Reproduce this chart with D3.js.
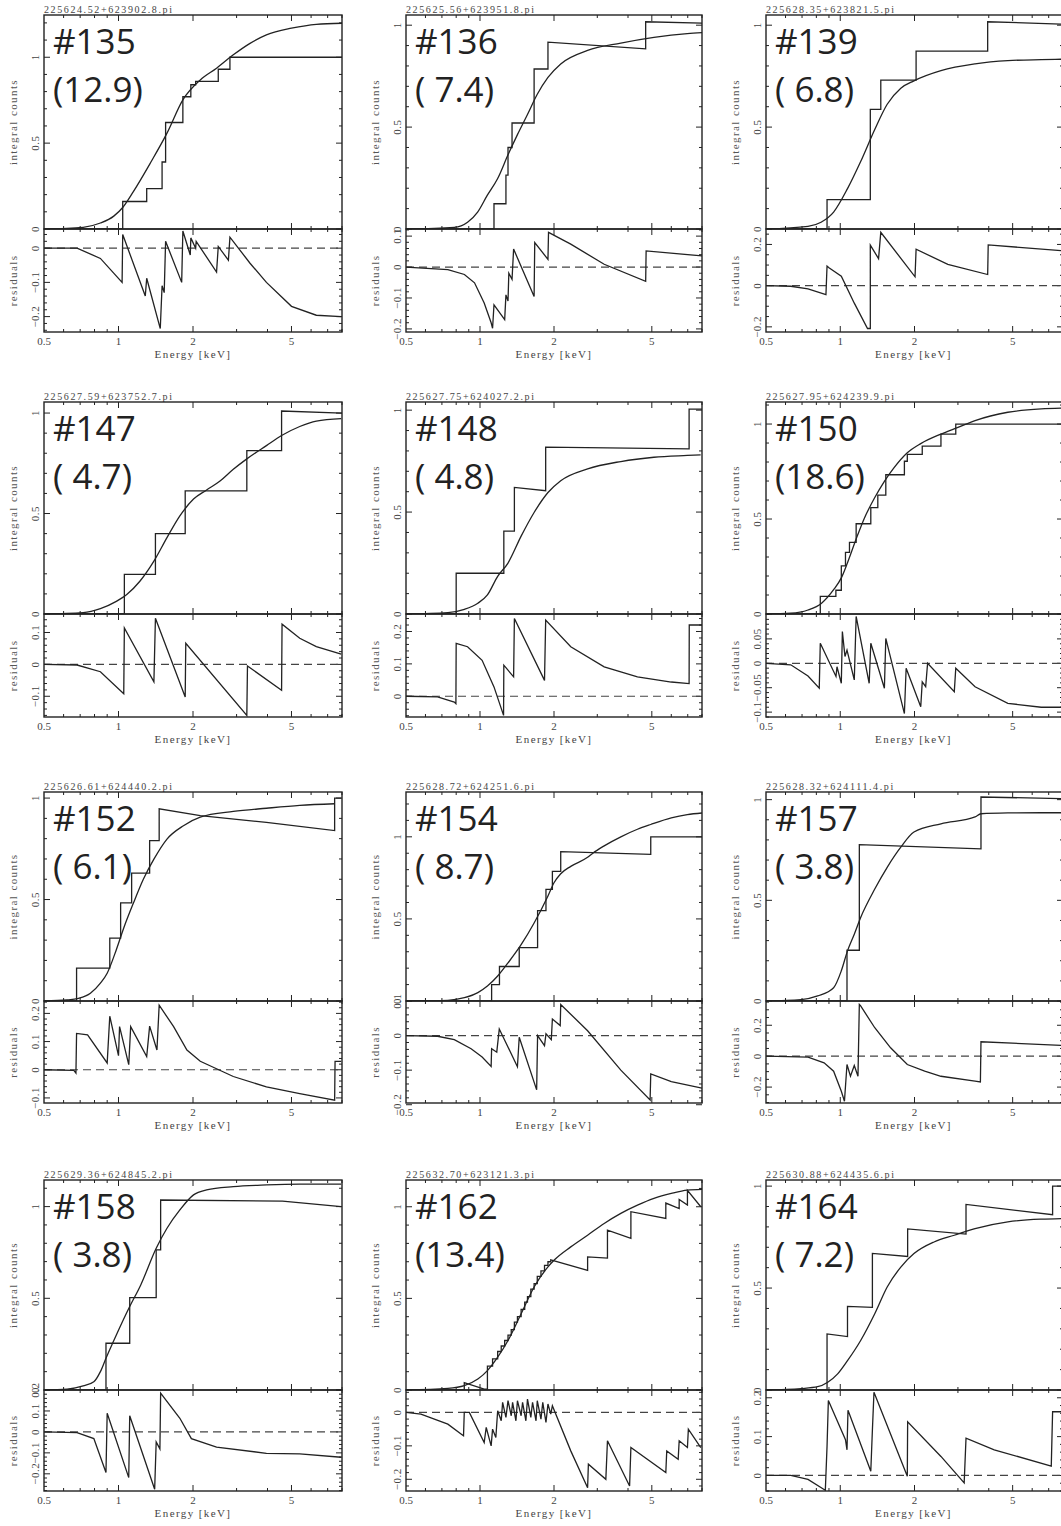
<!DOCTYPE html>
<html>
<head>
<meta charset="utf-8">
<script src="https://cdn.jsdelivr.net/npm/d3@7"></script>
<style>
  body { margin: 0; background: #fff; }
  svg { display: block; }
</style>
</head>
<body>
<svg id="fig" width="1061" height="1526"></svg>
<script>
// integral counts (data staircase), model curve and residuals, one set per source
const data135 = [[0.5,0],[1.04,0],[1.04,0.16],[1.30,0.16],[1.30,0.235],[1.50,0.235],[1.50,0.39],[1.55,0.39],[1.55,0.62],[1.82,0.62],[1.82,0.77],[1.96,0.77],[1.96,0.84],[2.05,0.84],[2.05,0.86],[2.53,0.86],[2.53,0.93],[2.82,0.93],[2.82,1.0],[8,1.0]];
const model135 = [[0.5,0],[0.72,0.01],[0.845,0.035],[0.957,0.075],[1.04,0.125],[1.15,0.219],[1.345,0.384],[1.57,0.558],[1.82,0.752],[2.14,0.868],[2.49,0.936],[2.91,1.014],[3.4,1.081],[3.96,1.13],[5.0,1.169],[6.3,1.192],[8,1.198]];
const resid135 = [[0.5,0],[0.68,0],[0.845,-0.03],[1.034,-0.10],[1.04,0.04],[1.283,-0.14],[1.30,-0.088],[1.475,-0.235],[1.50,-0.11],[1.53,-0.13],[1.55,0.02],[1.80,-0.10],[1.82,0.05],[1.95,-0.02],[1.96,0.03],[2.05,0.0],[2.06,0.02],[2.49,-0.07],[2.53,0.005],[2.78,-0.035],[2.82,0.032],[3.4,-0.044],[3.96,-0.10],[5.0,-0.17],[6.3,-0.196],[7.94,-0.2]];

const data136 = [[0.5,0],[1.14,0],[1.14,0.124],[1.275,0.124],[1.275,0.264],[1.30,0.264],[1.30,0.40],[1.35,0.40],[1.35,0.52],[1.66,0.52],[1.66,0.785],[1.89,0.785],[1.89,0.917],[4.72,0.884],[4.72,1.017],[8,1.01]];
const model136 = [[0.5,0],[0.786,0.008],[0.89,0.033],[0.978,0.083],[1.07,0.165],[1.18,0.248],[1.30,0.364],[1.42,0.463],[1.56,0.562],[1.71,0.661],[1.89,0.744],[2.13,0.81],[2.74,0.876],[3.74,0.912],[5.1,0.94],[6.97,0.959],[8,0.964]];
const resid136 = [[0.5,0],[0.74,-0.008],[0.864,-0.024],[0.95,-0.051],[1.04,-0.116],[1.11,-0.18],[1.125,-0.198],[1.14,-0.122],[1.26,-0.17],[1.275,-0.09],[1.30,-0.11],[1.31,-0.02],[1.35,-0.04],[1.37,0.058],[1.66,-0.095],[1.67,0.079],[1.89,0.025],[1.90,0.112],[2.34,0.074],[3.2,0.009],[4.72,-0.046],[4.74,0.052],[8,0.036]];

const data139 = [[0.5,0],[0.884,0],[0.884,0.144],[1.324,0.144],[1.324,0.587],[1.46,0.587],[1.46,0.73],[2.03,0.73],[2.03,0.873],[3.96,0.873],[3.96,1.017],[8,1.005]];
const model139 = [[0.5,0],[0.74,0.013],[0.836,0.033],[0.94,0.083],[1.07,0.198],[1.21,0.331],[1.38,0.488],[1.55,0.612],[1.76,0.691],[1.99,0.727],[2.56,0.777],[3.52,0.81],[4.78,0.826],[6.53,0.831],[8,0.833]];
const resid139 = [[0.5,0],[0.63,-0.003],[0.74,-0.016],[0.875,-0.044],[0.884,0.095],[0.90,0.087],[1.01,0.046],[1.14,-0.085],[1.29,-0.208],[1.324,-0.208],[1.324,0.197],[1.43,0.131],[1.46,0.259],[2.01,0.043],[2.03,0.177],[2.73,0.103],[3.96,0.054],[3.98,0.198],[8,0.169]];

const data147 = [[0.5,0],[1.056,0],[1.056,0.197],[1.41,0.197],[1.41,0.40],[1.86,0.40],[1.86,0.613],[3.30,0.613],[3.30,0.813],[4.56,0.813],[4.56,1.01],[8,1.0]];
const model147 = [[0.5,0],[0.72,0.007],[0.845,0.027],[0.98,0.063],[1.08,0.097],[1.22,0.163],[1.39,0.263],[1.57,0.38],[1.77,0.488],[2.01,0.572],[2.27,0.617],[2.58,0.663],[2.91,0.72],[3.30,0.772],[3.96,0.838],[4.56,0.888],[5.4,0.933],[6.3,0.96],[7.94,0.972]];
const resid147 = [[0.5,0],[0.68,-0.002],[0.845,-0.023],[1.05,-0.092],[1.056,0.114],[1.39,-0.055],[1.41,0.145],[1.86,-0.102],[1.87,0.066],[3.30,-0.16],[3.32,-0.005],[4.56,-0.081],[4.58,0.126],[5.4,0.082],[6.3,0.056],[7.94,0.032]];

const data148 = [[0.5,0],[0.80,0],[0.80,0.20],[1.25,0.20],[1.25,0.407],[1.38,0.407],[1.38,0.621],[1.85,0.605],[1.85,0.819],[7.09,0.81],[7.09,1.005],[8,1.005]];
const model148 = [[0.5,0],[0.74,0.007],[0.864,0.023],[0.98,0.053],[1.072,0.094],[1.18,0.185],[1.30,0.25],[1.47,0.382],[1.66,0.498],[1.89,0.596],[2.13,0.654],[2.74,0.712],[3.74,0.748],[5.1,0.769],[6.97,0.778],[7.9,0.781]];
const resid148 = [[0.5,0],[0.672,-0.002],[0.786,-0.018],[0.798,-0.023],[0.80,0.163],[0.89,0.153],[1.02,0.111],[1.14,0.029],[1.247,-0.059],[1.25,0.096],[1.37,0.06],[1.38,0.24],[1.83,0.049],[1.85,0.235],[2.34,0.153],[3.2,0.091],[4.37,0.06],[6.0,0.044],[7.09,0.039],[7.10,0.22],[8,0.22]];

const data150 = [[0.5,0],[0.83,0],[0.83,0.093],[0.96,0.093],[0.96,0.125],[1.01,0.125],[1.01,0.253],[1.05,0.253],[1.05,0.324],[1.09,0.324],[1.09,0.377],[1.16,0.377],[1.16,0.475],[1.33,0.475],[1.33,0.56],[1.42,0.56],[1.42,0.626],[1.53,0.626],[1.53,0.733],[1.82,0.733],[1.82,0.804],[1.87,0.804],[1.87,0.84],[2.15,0.84],[2.15,0.884],[2.56,0.884],[2.56,0.947],[2.94,0.947],[2.94,1.0],[8,1.0]];
const model150 = [[0.5,0],[0.63,0.004],[0.74,0.021],[0.84,0.057],[0.94,0.128],[1.01,0.19],[1.07,0.27],[1.16,0.395],[1.25,0.502],[1.375,0.609],[1.51,0.698],[1.65,0.769],[1.87,0.849],[2.12,0.897],[2.56,0.947],[3.0,0.982],[3.52,1.018],[4.78,1.062],[6.53,1.08],[8,1.084]];
const resid150 = [[0.5,0],[0.63,-0.003],[0.74,-0.026],[0.822,-0.051],[0.83,0.041],[0.961,-0.027],[0.97,-0.007],[1.01,-0.041],[1.02,0.065],[1.045,0.014],[1.065,0.027],[1.14,-0.034],[1.16,0.096],[1.31,-0.041],[1.33,0.041],[1.51,-0.051],[1.53,0.051],[1.82,-0.103],[1.85,-0.01],[2.12,-0.089],[2.15,-0.038],[2.22,-0.048],[2.26,0],[2.90,-0.058],[2.94,-0.01],[3.52,-0.048],[4.78,-0.082],[6.53,-0.09],[8,-0.09]];

const data152 = [[0.5,0],[0.677,0],[0.677,0.162],[0.922,0.162],[0.922,0.31],[1.02,0.31],[1.02,0.484],[1.13,0.484],[1.13,0.63],[1.336,0.63],[1.336,0.79],[1.46,0.79],[1.46,0.947],[2.14,0.914],[3.96,0.88],[7.47,0.84],[7.47,1.0],[7.94,1.0]];
const model152 = [[0.5,0],[0.62,0.005],[0.69,0.013],[0.77,0.038],[0.845,0.088],[0.90,0.137],[0.98,0.253],[1.05,0.36],[1.15,0.484],[1.26,0.6],[1.39,0.699],[1.57,0.798],[1.83,0.864],[2.14,0.906],[2.91,0.934],[3.96,0.95],[5.4,0.964],[7.47,0.972]];
const resid152 = [[0.5,0],[0.66,-0.002],[0.673,-0.012],[0.677,0.129],[0.75,0.124],[0.90,0.024],[0.922,0.19],[1.0,0.05],[1.01,0.153],[1.10,0.018],[1.12,0.153],[1.30,0.047],[1.336,0.155],[1.43,0.07],[1.46,0.229],[1.67,0.153],[1.89,0.07],[2.14,0.03],[2.91,-0.024],[3.96,-0.061],[5.4,-0.085],[7.47,-0.108],[7.5,0.03],[7.94,0.03]];

const data154 = [[0.5,0],[1.115,0],[1.115,0.10],[1.20,0.10],[1.20,0.21],[1.444,0.21],[1.444,0.325],[1.715,0.325],[1.715,0.55],[1.855,0.55],[1.855,0.68],[1.97,0.68],[1.97,0.79],[2.13,0.79],[2.13,0.91],[4.95,0.893],[4.95,1.0],[8,1.0]];
const model154 = [[0.5,0],[0.74,0.004],[0.864,0.02],[0.98,0.051],[1.072,0.091],[1.18,0.152],[1.30,0.232],[1.47,0.343],[1.66,0.475],[1.89,0.64],[2.0,0.72],[2.13,0.775],[2.34,0.82],[2.74,0.875],[2.87,0.899],[3.2,0.945],[3.74,1.0],[4.37,1.046],[4.95,1.075],[6.0,1.115],[6.97,1.135],[8,1.145]];
const resid154 = [[0.5,0],[0.672,-0.002],[0.786,-0.012],[0.92,-0.038],[1.02,-0.062],[1.11,-0.089],[1.115,-0.038],[1.17,-0.048],[1.198,0.019],[1.42,-0.09],[1.444,-0.005],[1.70,-0.157],[1.715,0.0],[1.83,-0.029],[1.855,0.005],[1.95,-0.012],[1.97,0.048],[2.12,0.029],[2.13,0.09],[2.74,0.014],[3.74,-0.1],[4.92,-0.186],[4.95,-0.111],[6.0,-0.133],[8,-0.152]];

const data157 = [[0.5,0],[1.065,0],[1.065,0.252],[1.195,0.252],[1.195,0.777],[3.72,0.756],[3.72,1.013],[8,1.005]];
const model157 = [[0.5,0],[0.694,0.007],[0.81,0.025],[0.94,0.066],[1.01,0.15],[1.07,0.249],[1.14,0.332],[1.21,0.415],[1.38,0.556],[1.55,0.664],[1.76,0.764],[1.99,0.839],[2.56,0.88],[3.52,0.914],[3.72,0.93],[4.78,0.934],[6.53,0.935],[8,0.935]];
const resid157 = [[0.5,0],[0.74,-0.006],[0.86,-0.043],[0.94,-0.097],[1.01,-0.227],[1.04,-0.292],[1.065,-0.054],[1.10,-0.13],[1.14,-0.06],[1.18,-0.13],[1.195,0.335],[1.21,0.325],[1.38,0.184],[1.60,0.054],[1.87,-0.054],[2.20,-0.097],[2.56,-0.13],[3.52,-0.162],[3.70,-0.167],[3.72,0.093],[8,0.069]];

const data158 = [[0.5,0],[0.89,0],[0.89,0.255],[1.11,0.255],[1.11,0.504],[1.42,0.504],[1.42,0.764],[1.48,0.764],[1.48,1.036],[4.6,1.03],[7.94,1.0]];
const model158 = [[0.5,0],[0.62,0.005],[0.72,0.022],[0.795,0.045],[0.845,0.1],[0.89,0.173],[0.98,0.3],[1.11,0.455],[1.23,0.573],[1.42,0.773],[1.57,0.882],[1.77,0.982],[2.01,1.064],[2.27,1.091],[2.91,1.109],[3.96,1.118],[5.4,1.122],[7.94,1.122]];
const resid158 = [[0.5,0],[0.68,-0.003],[0.795,-0.032],[0.89,-0.194],[0.90,0.089],[1.10,-0.218],[1.11,0.077],[1.40,-0.274],[1.42,-0.048],[1.47,-0.081],[1.48,0.185],[1.77,0.065],[1.97,-0.032],[2.49,-0.073],[3.96,-0.102],[5.4,-0.105],[7.94,-0.121]];

const data162 = [[0.5,0],[0.863,0],[0.863,0.04],[1.04,0.005],[1.072,0.005],[1.072,0.13],[1.125,0.13],[1.125,0.17],[1.18,0.17],[1.18,0.21],[1.22,0.21],[1.22,0.24],[1.26,0.24],[1.26,0.27],[1.30,0.27],[1.30,0.30],[1.34,0.30],[1.34,0.33],[1.38,0.33],[1.38,0.37],[1.42,0.37],[1.42,0.40],[1.47,0.40],[1.47,0.44],[1.52,0.44],[1.52,0.48],[1.56,0.48],[1.56,0.51],[1.61,0.51],[1.61,0.55],[1.66,0.55],[1.66,0.58],[1.71,0.58],[1.71,0.62],[1.77,0.62],[1.77,0.65],[1.83,0.65],[1.83,0.68],[1.89,0.68],[1.89,0.70],[1.94,0.70],[1.94,0.71],[2.74,0.653],[2.74,0.726],[3.30,0.72],[3.30,0.872],[4.11,0.827],[4.11,0.973],[5.70,0.936],[5.70,1.02],[6.46,0.99],[6.46,1.04],[6.98,1.01],[6.98,1.09],[7.91,1.0]];
const model162 = [[0.5,0],[0.74,0.009],[0.863,0.024],[0.98,0.06],[1.072,0.106],[1.18,0.179],[1.30,0.27],[1.47,0.416],[1.66,0.562],[1.89,0.672],[2.0,0.708],[2.34,0.781],[2.74,0.845],[3.2,0.909],[3.74,0.964],[4.37,1.009],[5.1,1.046],[6.0,1.073],[6.97,1.091],[8,1.095]];
const resid162 = [[0.5,0],[0.575,-0.005],[0.74,-0.035],[0.84,-0.065],[0.857,-0.07],[0.863,0],[0.905,0],[1.04,-0.09],[1.06,-0.045],[1.11,-0.1],[1.125,-0.05],[1.16,-0.075],[1.18,0.005],[1.22,-0.025],[1.236,0.03],[1.275,-0.015],[1.30,0.035],[1.34,-0.01],[1.357,0.03],[1.40,-0.025],[1.42,0.035],[1.47,-0.01],[1.49,0.03],[1.537,-0.025],[1.56,0.04],[1.61,-0.015],[1.636,0.03],[1.69,-0.025],[1.71,0.035],[1.77,-0.02],[1.80,0.03],[1.855,-0.03],[1.89,0.025],[1.94,-0.005],[1.97,0.02],[2.34,-0.115],[2.74,-0.225],[2.76,-0.155],[3.25,-0.2],[3.30,-0.085],[4.06,-0.22],[4.11,-0.105],[5.70,-0.18],[5.75,-0.115],[6.4,-0.14],[6.46,-0.085],[6.98,-0.105],[7.04,-0.05],[7.91,-0.105]];

const data164 = [[0.5,0],[0.884,0],[0.884,0.275],[1.07,0.262],[1.07,0.41],[1.35,0.405],[1.35,0.67],[1.876,0.655],[1.876,0.79],[3.235,0.765],[3.235,0.91],[7.26,0.86],[7.26,1.0],[8,1.0]];
const model164 = [[0.5,0],[0.694,0.007],[0.81,0.016],[0.89,0.038],[0.976,0.079],[1.07,0.144],[1.21,0.243],[1.38,0.374],[1.55,0.505],[1.76,0.603],[1.99,0.669],[2.40,0.726],[2.90,0.759],[3.52,0.792],[4.78,0.825],[6.53,0.838],[8,0.841]];
const resid164 = [[0.5,0],[0.63,0],[0.74,-0.01],[0.86,-0.036],[0.87,-0.038],[0.884,0.075],[0.895,0.193],[1.05,0.092],[1.065,0.066],[1.075,0.168],[1.33,0.011],[1.35,0.117],[1.37,0.214],[1.87,-0.002],[1.876,0.138],[2.56,0.049],[3.18,-0.019],[3.235,0.096],[4.21,0.066],[7.17,0.024],[7.26,0.164],[8,0.164]];

// labels and axis ranges
const sourceIds = ['#135', '#136', '#139', '#147', '#148', '#150', '#152', '#154', '#157', '#158', '#162', '#164'];
const sourceCounts = ['(12.9)', '( 7.4)', '( 6.8)', '( 4.7)', '( 4.8)', '(18.6)', '( 6.1)', '( 8.7)', '( 3.8)', '( 3.8)', '(13.4)', '( 7.2)'];
const fileNames = ['225624.52+623902.8.pi', '225625.56+623951.8.pi', '225628.35+623821.5.pi', '225627.59+623752.7.pi',
  '225627.75+624027.2.pi', '225627.95+624239.9.pi', '225626.61+624440.2.pi', '225628.72+624251.6.pi',
  '225628.32+624111.4.pi', '225629.36+624845.2.pi', '225632.70+623121.3.pi', '225630.88+624435.6.pi'];
const topMax = [1.246, 1.05, 1.05, 1.055, 1.04, 1.116, 1.03, 1.273, 1.038, 1.145, 1.146, 1.03];
const residLo = [-0.245, -0.21, -0.225, -0.165, -0.064, -0.11, -0.118, -0.195, -0.303, -0.282, -0.235, -0.04];
const residHi = [0.056, 0.123, 0.275, 0.158, 0.254, 0.101, 0.244, 0.10, 0.357, 0.2, 0.067, 0.22];
const residTicks = [[-0.2,-0.1,0], [-0.2,-0.1,0,0.1], [-0.2,0,0.2], [-0.1,0,0.1], [0,0.1,0.2], [-0.1,-0.05,0,0.05],
  [-0.1,0,0.1,0.2], [-0.2,-0.1,0,0.1], [-0.2,0,0.2], [-0.2,-0.1,0,0.1,0.2], [-0.2,-0.1,0], [0,0.1,0.2]];
const residMinor = [0.02, 0.02, 0.05, 0.02, 0.02, 0.01, 0.02, 0.02, 0.05, 0.02, 0.02, 0.02];
const topTicks = [0, 0.5, 1];
const energyTicks = [0.5, 1, 2, 5];
const energyMinor = [0.6, 0.7, 0.8, 0.9, 3, 4, 6, 7, 8];

const dataSets = [data135, data136, data139, data147, data148, data150, data152, data154, data157, data158, data162, data164];
const modelSets = [model135, model136, model139, model147, model148, model150, model152, model154, model157, model158, model162, model164];
const residSets = [resid135, resid136, resid139, resid147, resid148, resid150, resid152, resid154, resid157, resid158, resid162, resid164];

// page layout
const cols = [{x0: 44, x1: 342}, {x0: 406, x1: 702}, {x0: 766, x1: 1063}];
const rows = [{y0: 15, ym: 229, y1: 332}, {y0: 402, ym: 614, y1: 717}, {y0: 792, ym: 1001, y1: 1103}, {y0: 1180, ym: 1390, y1: 1491}];
const ink = '#222';
const serif = '"Liberation Serif", "DejaVu Serif", serif';

const svg = d3.select('#fig');
const fmt = v => v === 0 ? '0' : String(v).replace('-', '\u2212');

function minorRange(lo, hi, step) {
  const out = [];
  for (let k = Math.ceil(lo / step - 1e-6); k * step <= hi + 1e-9; k++) out.push(+(k * step).toFixed(4));
  return out;
}

function frame(g, x, y, left, right, top, bottom, yMajor, yMinor) {
  g.append('rect').attr('x', left).attr('y', top).attr('width', right - left).attr('height', bottom - top)
    .attr('fill', 'none').attr('stroke', ink).attr('stroke-width', 1.4);
  const segs = [];
  energyTicks.slice(1).forEach(e => { segs.push([x(e), top, x(e), top + 6]); segs.push([x(e), bottom, x(e), bottom - 6]); });
  energyMinor.forEach(e => { segs.push([x(e), top, x(e), top + 3]); segs.push([x(e), bottom, x(e), bottom - 3]); });
  yMajor.forEach(v => { segs.push([left, y(v), left + 6, y(v)]); segs.push([right, y(v), right - 6, y(v)]); });
  yMinor.forEach(v => { segs.push([left, y(v), left + 3, y(v)]); segs.push([right, y(v), right - 3, y(v)]); });
  g.append('g').selectAll('line').data(segs).join('line')
    .attr('x1', d => d[0]).attr('y1', d => d[1]).attr('x2', d => d[2]).attr('y2', d => d[3])
    .attr('stroke', ink).attr('stroke-width', 1);
}

function yLabels(g, y, left, ticks) {
  g.append('g').selectAll('text').data(ticks).join('text')
    .attr('transform', v => `translate(${left - 5},${y(v)}) rotate(-90)`)
    .attr('text-anchor', 'middle')
    .attr('font-family', serif).attr('font-size', 11).attr('letter-spacing', 0.5).attr('fill', '#444')
    .text(fmt);
}

sourceIds.forEach((id, i) => {
  const c = cols[i % 3], r = rows[Math.floor(i / 3)];
  const x = d3.scaleLog().domain([0.5, 8]).range([c.x0, c.x1]);
  const yTop = d3.scaleLinear().domain([0, topMax[i]]).range([r.ym, r.y0]);
  const yRes = d3.scaleLinear().domain([residLo[i], residHi[i]]).range([r.y1, r.ym]);
  const g = svg.append('g');

  const clipTop = 'ct' + i, clipRes = 'cr' + i;
  g.append('clipPath').attr('id', clipTop).append('rect')
    .attr('x', c.x0).attr('y', r.y0).attr('width', c.x1 - c.x0).attr('height', r.ym - r.y0);
  g.append('clipPath').attr('id', clipRes).append('rect')
    .attr('x', c.x0).attr('y', r.ym).attr('width', c.x1 - c.x0).attr('height', r.y1 - r.ym);

  // file name above the frame
  g.append('text').attr('x', c.x0).attr('y', r.y0 - 2.5)
    .attr('font-family', serif).attr('font-size', 10).attr('letter-spacing', 1.6).attr('fill', '#444')
    .text(fileNames[i]);

  // upper panel: integral counts
  const tMinor = minorRange(0, topMax[i], 0.1).filter(v => !topTicks.includes(v));
  frame(g, x, yTop, c.x0, c.x1, r.y0, r.ym, topTicks, tMinor);
  yLabels(g, yTop, c.x0, topTicks);
  g.append('text')
    .attr('transform', `translate(${c.x0 - 27},${(r.y0 + r.ym) / 2}) rotate(-90)`)
    .attr('text-anchor', 'middle').attr('font-family', serif).attr('font-size', 11)
    .attr('letter-spacing', 1.4).attr('fill', '#555')
    .text('integral counts');

  g.append('path').attr('clip-path', `url(#${clipTop})`)
    .attr('d', d3.line().x(d => x(d[0])).y(d => yTop(d[1]))(dataSets[i]))
    .attr('fill', 'none').attr('stroke', ink).attr('stroke-width', 1.3);
  g.append('path').attr('clip-path', `url(#${clipTop})`)
    .attr('d', d3.line().x(d => x(d[0])).y(d => yTop(d[1])).curve(d3.curveMonotoneX)(modelSets[i]))
    .attr('fill', 'none').attr('stroke', ink).attr('stroke-width', 1.3);

  // lower panel: residuals
  const rMinor = minorRange(residLo[i], residHi[i], residMinor[i]).filter(v => !residTicks[i].includes(v));
  frame(g, x, yRes, c.x0, c.x1, r.ym, r.y1, residTicks[i], rMinor);
  yLabels(g, yRes, c.x0, residTicks[i]);
  g.append('text')
    .attr('transform', `translate(${c.x0 - 27},${(r.ym + r.y1) / 2}) rotate(-90)`)
    .attr('text-anchor', 'middle').attr('font-family', serif).attr('font-size', 11)
    .attr('letter-spacing', 1.4).attr('fill', '#555')
    .text('residuals');
  g.append('line').attr('x1', c.x0).attr('x2', c.x1).attr('y1', yRes(0)).attr('y2', yRes(0))
    .attr('stroke', '#444').attr('stroke-width', 1.2).attr('stroke-dasharray', '8,5');
  g.append('path').attr('clip-path', `url(#${clipRes})`)
    .attr('d', d3.line().x(d => x(d[0])).y(d => yRes(d[1]))(residSets[i]))
    .attr('fill', 'none').attr('stroke', ink).attr('stroke-width', 1.3);

  // energy axis
  g.append('g').selectAll('text').data(energyTicks).join('text')
    .attr('x', e => x(e)).attr('y', r.y1 + 13)
    .attr('text-anchor', 'middle').attr('font-family', serif).attr('font-size', 11).attr('fill', '#444')
    .text(e => String(e));
  g.append('text').attr('x', (c.x0 + Math.min(c.x1, 1061)) / 2).attr('y', r.y1 + 26)
    .attr('text-anchor', 'middle').attr('font-family', serif).attr('font-size', 11).attr('letter-spacing', 1.4)
    .attr('fill', '#444').text('Energy [keV]');

  // big source labels
  g.append('text').attr('x', c.x0 + 9).attr('y', r.y0 + 39)
    .attr('font-family', '"Open Sans", sans-serif').attr('font-size', 35).attr('fill', '#222').text(id);
  g.append('text').attr('x', c.x0 + 9).attr('y', r.y0 + 87)
    .style('white-space', 'pre')
    .attr('font-family', '"Open Sans", sans-serif').attr('font-size', 35).attr('fill', '#222').text(sourceCounts[i]);
});
</script>
</body>
</html>
